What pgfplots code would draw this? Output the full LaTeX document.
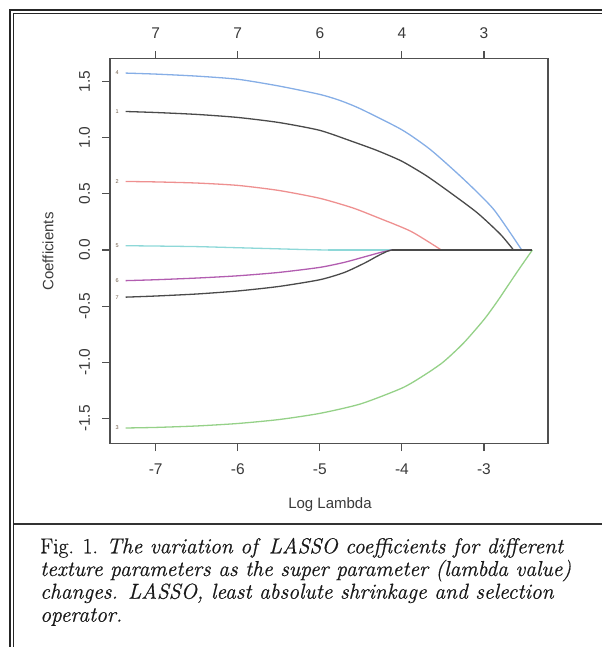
\documentclass[border=0pt]{standalone}
\usepackage{pgfplots}
\pgfplotsset{compat=1.18}
\usepackage{fontspec}
\newfontfamily\arial{Liberation Sans}
\newfontfamily\capfont{Latin Modern Roman}[FakeBold=0.6]
\definecolor{cblack}{HTML}{4A4A4A}
\definecolor{cred}{HTML}{EE9090}
\definecolor{cgreen}{HTML}{95D188}
\definecolor{cblue}{HTML}{86AEE6}
\definecolor{ccyan}{HTML}{8ED8D8}
\definecolor{cmag}{HTML}{B25DB0}
\definecolor{axgray}{HTML}{505050}
\definecolor{lblgray}{HTML}{3A3A3A}
\definecolor{numlab}{HTML}{6E5A46}
\begin{document}
\begin{tikzpicture}[x=1pt,y=1pt]
\path[use as bounding box] (0,0) rectangle (602,647);
% figure frame
\draw[line width=2pt, black!85] (10,0) -- (10,637) -- (602,637);
\draw[line width=1.1pt, black!85] (13.7,0) -- (13.7,633.3) -- (602,633.3);
\draw[line width=1.5pt, black!80] (13.7,123) -- (602,123);
\begin{axis}[
  at={(134,181)}, anchor=south west,
  scale only axis, width=438pt, height=385pt,
  xmin=-7.557, xmax=-2.22, ymin=-1.725, ymax=1.703,
  xtick={-7,-6,-5,-4,-3}, xticklabels={-7,-6,-5,-4,-3},
  ytick={-1.5,-1,-0.5,0,0.5,1,1.5},
  yticklabels={-1.5,-1.0,-0.5,0.0,0.5,1.0,1.5},
  xtick pos=left, ytick pos=left,
  tick align=outside, major tick length=7.5pt,
  tick style={line width=1.1pt, color=axgray},
  axis line style={line width=1.4pt, color=axgray},
  ticklabel style={font=\arial\fontsize{15.5}{16}\selectfont, text=lblgray},
  yticklabel style={rotate=90, anchor=south},
  xticklabel shift=9pt, yticklabel shift=9pt,
  clip=false,
]
\addplot[cblack, line width=1.3pt, smooth, tension=0.4] coordinates {
(-7.365,1.233) (-7.0,1.224) (-6.5,1.207) (-6.0,1.18) (-5.5,1.135) (-5.0,1.065)
(-4.6,0.965) (-4.3,0.885) (-4.0,0.79) (-3.7,0.66) (-3.4,0.505) (-3.08,0.33) (-2.8,0.14) (-2.64,0)};
\addplot[cblack, line width=1.3pt] coordinates {(-2.64,0) (-2.41,0)};
\addplot[cred, line width=1.3pt, smooth, tension=0.4] coordinates {
(-7.365,0.61) (-7.0,0.606) (-6.5,0.596) (-6.0,0.575) (-5.5,0.53) (-5.0,0.46)
(-4.6,0.375) (-4.3,0.29) (-3.89,0.166) (-3.52,0)};
\addplot[cred, line width=1.3pt] coordinates {(-3.52,0) (-2.41,0)};
\addplot[cgreen, line width=1.3pt, smooth, tension=0.4] coordinates {
(-7.365,-1.585) (-7.0,-1.58) (-6.5,-1.567) (-6.0,-1.545) (-5.5,-1.51) (-5.0,-1.455)
(-4.5,-1.37) (-4.0,-1.23) (-3.75,-1.125) (-3.5,-1.0) (-3.25,-0.83) (-3.0,-0.62)
(-2.83,-0.45) (-2.6,-0.2) (-2.41,0)};
\addplot[cblue, line width=1.3pt, smooth, tension=0.4] coordinates {
(-7.365,1.575) (-7.0,1.566) (-6.5,1.548) (-6.0,1.52) (-5.5,1.46) (-5.0,1.385)
(-4.75,1.33) (-4.5,1.255) (-4.0,1.07) (-3.65,0.892) (-3.24,0.625) (-2.88,0.36) (-2.54,0)};
\addplot[cblue, line width=1.3pt] coordinates {(-2.54,0) (-2.41,0)};
\addplot[ccyan, line width=1.3pt, smooth, tension=0.4] coordinates {
(-7.365,0.038) (-7.0,0.035) (-6.5,0.03) (-6.0,0.02) (-5.5,0.01) (-5.1,0.002) (-4.9,0)};
\addplot[ccyan, line width=1.3pt] coordinates {(-4.9,0) (-2.41,0)};
\addplot[cmag, line width=1.3pt, smooth, tension=0.4] coordinates {
(-7.365,-0.273) (-7.0,-0.265) (-6.5,-0.25) (-6.0,-0.23) (-5.5,-0.2) (-5.0,-0.155)
(-4.7,-0.11) (-4.45,-0.06) (-4.25,-0.02) (-4.12,0)};
\addplot[cmag, line width=1.3pt] coordinates {(-4.12,0) (-2.41,0)};
\addplot[cblack, line width=1.3pt, smooth, tension=0.4] coordinates {
(-7.365,-0.42) (-7.0,-0.41) (-6.5,-0.392) (-6.0,-0.365) (-5.5,-0.325) (-5.0,-0.265)
(-4.7,-0.2) (-4.45,-0.115) (-4.3,-0.055) (-4.18,-0.012) (-4.12,0)};
\addplot[cblack, line width=1.3pt] coordinates {(-4.12,0) (-2.41,0)};
% curve numbers
\begin{scope}[every node/.style={font=\arial\fontsize{5.5}{6}\selectfont, text=numlab, inner sep=0pt}]
\node at (axis cs:-7.47,1.575) {4};
\node at (axis cs:-7.47,1.233) {1};
\node at (axis cs:-7.47,0.61) {2};
\node at (axis cs:-7.47,0.038) {5};
\node at (axis cs:-7.47,-0.273) {6};
\node at (axis cs:-7.47,-0.42) {7};
\node at (axis cs:-7.47,-1.585) {3};
\end{scope}
\end{axis}
\begin{axis}[
  at={(134,181)}, anchor=south west,
  scale only axis, width=438pt, height=385pt,
  xmin=-7.557, xmax=-2.22, ymin=-1.725, ymax=1.703,
  hide y axis, axis x line*=top,
  xtick={-7,-6,-5,-4,-3}, xticklabels={7,7,6,4,3},
  tick align=outside, major tick length=7.5pt,
  tick style={line width=1.1pt, color=axgray},
  axis line style={line width=1.4pt, color=axgray},
  ticklabel style={font=\arial\fontsize{15.5}{16}\selectfont, text=lblgray},
  xticklabel shift=9pt,
]
\end{axis}
\node[rotate=90, font=\arial\fontsize{15}{16}\selectfont, text=lblgray] at (48,395.5) {Coefficients};
\node[font=\arial\fontsize{15}{16}\selectfont, text=lblgray] at (330,142) {Log Lambda};
% caption
\begin{scope}[every node/.style={anchor=base west, inner sep=0pt, font=\capfont\fontsize{21.6}{22}\selectfont, text=black!90}]
\node at (40,93.7) {Fig. 1. \textit{The variation of \,LASSO coefficients for different}};
\node at (40,71) {\textit{texture parameters as the super parameter (lambda value)}};
\node at (40,48.3) {\textit{changes. LASSO, least absolute shrinkage and selection}};
\node at (40,25.3) {\textit{operator.}};
\end{scope}
\end{tikzpicture}
\end{document}
